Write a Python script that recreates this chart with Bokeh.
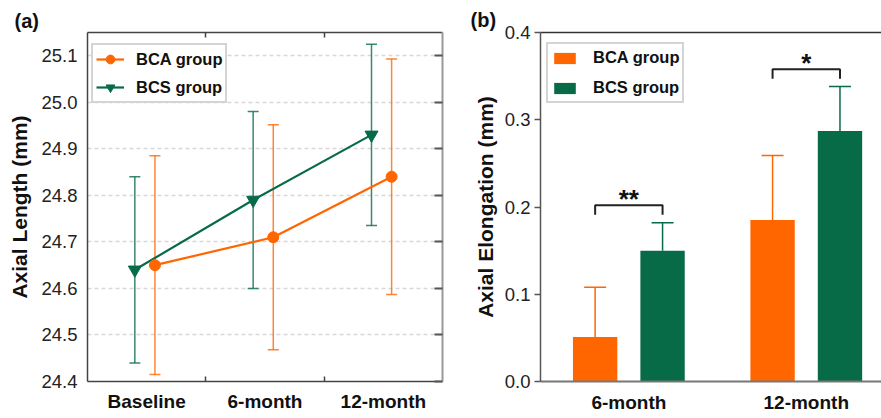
from bokeh.plotting import figure
from bokeh.models import (Range1d, LinearAxis, FixedTicker, Whisker, ColumnDataSource,
                          Legend, LegendItem, TeeHead, PrintfTickFormatter)
from bokeh.layouts import row
from bokeh.embed import file_html
from bokeh.resources import INLINE
from bokeh.core.properties import value

FONT = "Liberation Sans"
ORANGE = "#FF6600"
GREEN = "#086B48"

# ---- panel (a) data ----
timepoints = ["Baseline", "6-month", "12-month"]
bca_mean = [24.65, 24.71, 24.84]
bca_sd = [0.235, 0.242, 0.253]
bcs_mean = [24.64, 24.79, 24.93]
bcs_sd = [0.20, 0.19, 0.195]
length_ticks = [24.4, 24.5, 24.6, 24.7, 24.8, 24.9, 25.0, 25.1]

# ---- panel (b) data ----
periods = ["6-month", "12-month"]
bca_elong = [0.051, 0.185]
bca_elong_sd = [0.057, 0.074]
bcs_elong = [0.150, 0.287]
bcs_elong_sd = [0.032, 0.051]
sig_marks = ["**", "*"]
elong_ticks = [0.0, 0.1, 0.2, 0.3, 0.4]

# =================== panel (a) ===================
x_pos = [i + 0.5 for i in range(len(timepoints))]
bca_x = [x + 0.07 for x in x_pos]
bcs_x = [x - 0.10 for x in x_pos]

p1 = figure(width=447, height=418, x_range=Range1d(0, 3), y_range=Range1d(24.4, 25.15),
            output_backend="svg", toolbar_location=None,
            min_border_left=87, min_border_right=5, min_border_top=29, min_border_bottom=37)
p1.outline_line_color = None
p1.title.text = "(a)"
p1.title.align = "left"
p1.title.offset = -73
p1.title.text_font = FONT
p1.title.text_font_size = "20px"
p1.title.text_font_style = "bold"
p1.title.text_color = "#111111"
p1.title.standoff = 2

xa = p1.xaxis[0]
xa.ticker = FixedTicker(ticks=x_pos, minor_ticks=[1, 2])
xa.major_label_overrides = {x: t for x, t in zip(x_pos, timepoints)}
xa.major_tick_in = 0
xa.major_tick_out = 0
xa.minor_tick_in = 5
xa.minor_tick_out = 0
xa.minor_tick_line_color = "#444444"
xa.minor_tick_line_width = 1.5
xa.axis_line_color = "#444444"
xa.axis_line_width = 1.5
xa.major_label_text_font = FONT
xa.major_label_text_font_size = "19px"
xa.major_label_text_font_style = "bold"
xa.major_label_text_color = "#111111"
xa.major_label_standoff = 9

ya = p1.yaxis[0]
ya.ticker = FixedTicker(ticks=length_ticks)
ya.formatter = PrintfTickFormatter(format="%.1f")
ya.major_tick_in = 0
ya.major_tick_out = 0
ya.minor_tick_line_color = None
ya.axis_line_color = "#444444"
ya.axis_line_width = 1.5
ya.major_label_text_font = FONT
ya.major_label_text_font_size = "18.5px"
ya.major_label_text_color = "#222222"
ya.major_label_standoff = 10
ya.axis_label = "Axial Length (mm)"
ya.axis_label_text_font = FONT
ya.axis_label_text_font_size = "21px"
ya.axis_label_text_font_style = "bold"
ya.axis_label_text_color = "#111111"
ya.axis_label_standoff = 7

right_ax = LinearAxis(ticker=FixedTicker(ticks=[], minor_ticks=length_ticks),
                      major_tick_in=0, major_tick_out=0, minor_tick_in=8, minor_tick_out=0,
                      major_label_standoff=0, axis_line_color="#999999", axis_line_width=2,
                      minor_tick_line_color="#555555", minor_tick_line_width=2)
p1.add_layout(right_ax, "right")
top_ax = LinearAxis(ticker=FixedTicker(ticks=[], minor_ticks=[1, 2]),
                    major_tick_in=0, major_tick_out=0, minor_tick_in=5, minor_tick_out=0,
                    major_label_standoff=0, axis_line_color="#444444", axis_line_width=1.5,
                    minor_tick_line_color="#444444", minor_tick_line_width=1.5)
p1.add_layout(top_ax, "above")

p1.xgrid.visible = False
p1.ygrid.ticker = FixedTicker(ticks=length_ticks[1:])
p1.ygrid.grid_line_color = "#d8d8d8"
p1.ygrid.grid_line_dash = "4 3"
p1.ygrid.grid_line_width = 1.5

for xs, m, s, col in [(bcs_x, bcs_mean, bcs_sd, GREEN), (bca_x, bca_mean, bca_sd, ORANGE)]:
    src = ColumnDataSource(dict(x=xs, lo=[a - b for a, b in zip(m, s)], hi=[a + b for a, b in zip(m, s)]))
    w = Whisker(source=src, base="x", lower="lo", upper="hi", dimension="height",
                line_color=col, line_width=1.5, line_alpha=0.8,
                upper_head=TeeHead(size=11, line_color=col, line_width=1.5, line_alpha=0.8),
                lower_head=TeeHead(size=11, line_color=col, line_width=1.5, line_alpha=0.8))
    p1.add_layout(w)

l_bcs = p1.line(bcs_x, bcs_mean, line_color=GREEN, line_width=2.2)
m_bcs = p1.scatter(bcs_x, bcs_mean, marker="inverted_triangle", size=13, fill_color=GREEN, line_color=GREEN)
l_bca = p1.line(bca_x, bca_mean, line_color=ORANGE, line_width=2.2)
m_bca = p1.scatter(bca_x, bca_mean, marker="circle", size=11, fill_color=ORANGE, line_color=ORANGE)

leg1 = Legend(items=[LegendItem(label="BCA group", renderers=[l_bca, m_bca]),
                     LegendItem(label="BCS group", renderers=[l_bcs, m_bcs])],
              location=(4, 278), border_line_color="#aaaaaa", border_line_width=2,
              label_text_font=FONT, label_text_font_size="16.5px", label_text_font_style="bold",
              label_text_color="#111111", glyph_width=28, glyph_height=22, label_height=22,
              spacing=6, padding=3, label_standoff=12, margin=0, background_fill_alpha=1)
p1.add_layout(leg1)

# =================== panel (b) ===================
centers = [i + 1 for i in range(len(periods))]
off = 0.19
bca_bx = [c - off for c in centers]
bcs_bx = [c + off for c in centers]

p2 = figure(width=434, height=418, x_range=Range1d(0.502, 2.424), y_range=Range1d(0, 0.4),
            output_backend="svg", toolbar_location=None,
            min_border_left=93, min_border_right=0, min_border_top=32, min_border_bottom=35)
p2.outline_line_color = None
p2.title.text = "(b)"
p2.title.align = "left"
p2.title.offset = -70
p2.title.text_font = FONT
p2.title.text_font_size = "20px"
p2.title.text_font_style = "bold"
p2.title.text_color = "#111111"
p2.title.standoff = 4
p2.grid.visible = False

xb = p2.xaxis[0]
xb.ticker = FixedTicker(ticks=centers)
xb.major_label_overrides = {c: t for c, t in zip(centers, periods)}
xb.major_tick_in = 0
xb.major_tick_out = 0
xb.minor_tick_line_color = None
xb.axis_line_color = "#777777"
xb.axis_line_width = 2
xb.major_label_text_font = FONT
xb.major_label_text_font_size = "19px"
xb.major_label_text_font_style = "bold"
xb.major_label_text_color = "#111111"
xb.major_label_standoff = 10

yb = p2.yaxis[0]
yb.ticker = FixedTicker(ticks=elong_ticks)
yb.formatter = PrintfTickFormatter(format="%.1f")
yb.major_tick_in = 0
yb.major_tick_out = 6
yb.minor_tick_line_color = None
yb.axis_line_color = "#555555"
yb.axis_line_width = 1.5
yb.major_tick_line_color = "#555555"
yb.major_tick_line_width = 1.5
yb.major_label_text_font = FONT
yb.major_label_text_font_size = "18.5px"
yb.major_label_text_color = "#222222"
yb.major_label_standoff = 4
yb.axis_label = "Axial Elongation (mm)"
yb.axis_label_text_font = FONT
yb.axis_label_text_font_size = "21px"
yb.axis_label_text_font_style = "bold"
yb.axis_label_text_color = "#111111"
yb.axis_label_standoff = 5

top_b = LinearAxis(ticker=FixedTicker(ticks=[]), major_tick_in=0, major_tick_out=0,
                   minor_tick_line_color=None, major_label_standoff=0,
                   axis_line_color="#333333", axis_line_width=1.5)
p2.add_layout(top_b, "above")

r_bca = p2.vbar(x=bca_bx, top=bca_elong, width=0.25, fill_color=ORANGE, line_color=None)
r_bcs = p2.vbar(x=bcs_bx, top=bcs_elong, width=0.25, fill_color=GREEN, line_color=None)

for xs, m, s, col in [(bca_bx, bca_elong, bca_elong_sd, ORANGE), (bcs_bx, bcs_elong, bcs_elong_sd, GREEN)]:
    src = ColumnDataSource(dict(x=xs, lo=m, hi=[a + b for a, b in zip(m, s)]))
    w = Whisker(source=src, base="x", lower="lo", upper="hi", dimension="height",
                line_color=col, line_width=1.5,
                upper_head=TeeHead(size=22, line_color=col, line_width=1.5), lower_head=None)
    p2.add_layout(w)

# significance brackets
gap, leg = 0.02, 0.011
tops = [max(a + b, c + d) + gap for a, b, c, d in zip(bca_elong, bca_elong_sd, bcs_elong, bcs_elong_sd)]
br_xs = [[xl, xl, xr, xr] for xl, xr in zip(bca_bx, bcs_bx)]
br_ys = [[t - leg, t, t, t - leg] for t in tops]
p2.multi_line(br_xs, br_ys, line_color="#222222", line_width=2)
p2.text(x=centers, y=tops, text=sig_marks, text_align="center", text_baseline="alphabetic",
        text_font=value(FONT), text_font_size="26px", text_font_style="bold",
        text_color="#111111", y_offset=-6)

leg2 = Legend(items=[LegendItem(label="BCA group", renderers=[r_bca]),
                     LegendItem(label="BCS group", renderers=[r_bcs])],
              location=(6, 278), border_line_color="#aaaaaa", border_line_width=2,
              label_text_font=FONT, label_text_font_size="16.5px", label_text_font_style="bold",
              label_text_color="#111111", glyph_width=27, glyph_height=14, label_height=21,
              spacing=9, padding=3, label_standoff=15, margin=0, background_fill_alpha=1)
p2.add_layout(leg2)

layout = row(p1, p2)
open("out.html", "w").write(file_html(layout, INLINE))
